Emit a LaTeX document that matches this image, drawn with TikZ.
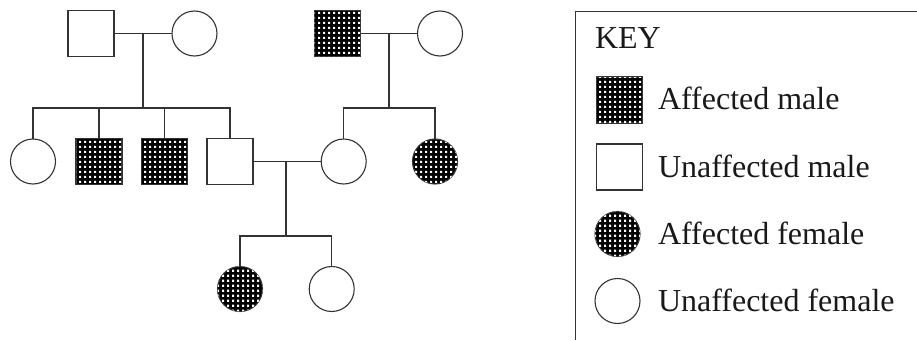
\documentclass[tikz,border=0pt]{standalone}
\usepackage{fontspec}
\setmainfont{Liberation Serif}
\usetikzlibrary{patterns}

% grid of small white dots laid over a black fill
\pgfdeclarepatternformonly{whitegrid}{\pgfpointorigin}{\pgfpoint{4.6pt}{4.6pt}}{\pgfpoint{4.6pt}{4.6pt}}{%
  \pgfpathrectangle{\pgfpoint{1.2pt}{1.2pt}}{\pgfpoint{2.3pt}{2.3pt}}%
  \pgfusepath{fill}}

\begin{document}
\begin{tikzpicture}[x=1pt,y=-1pt,
  every node/.style={inner sep=0pt, outer sep=0pt},
  ln/.style={draw=black!80, line width=1.1pt},
  male/.style={ln, rectangle, minimum size=46pt, fill=white},
  female/.style={ln, circle, minimum size=45pt, fill=white},
  affected/.style={fill=black, postaction={pattern=whitegrid, pattern color=white}},
  keytext/.style={anchor=base west, font=\fontsize{32}{36}\selectfont, text=black!90}]
\useasboundingbox (0,0) rectangle (917,340);

% first generation
\node[male]   (gm1) at (91,33.5) {};
\node[female] (gf1) at (194.5,33.5) {};
\node[male, affected] (gm2) at (337.5,33.5) {};
\node[female] (gf2) at (440,33.5) {};

% second generation
\node[female] (c1) at (33,161.5) {};
\node[male, affected] (c2) at (99,161.5) {};
\node[male, affected] (c3) at (164.5,161.5) {};
\node[male]   (c4) at (230,161.5) {};
\node[female] (d1) at (343.7,161.5) {};
\node[female, affected] (d2) at (435,161.5) {};

% third generation
\node[female, affected] (e1) at (240,289) {};
\node[female] (e2) at (331.7,289) {};

% marriage points and sibling bars
\coordinate (m1) at (143,33.5);
\coordinate (s1) at (143,108);
\coordinate (m2) at (389,33.5);
\coordinate (s2) at (389,108);
\coordinate (m3) at (286,161.5);
\coordinate (s3) at (286,236);

\draw[ln] (gm1.east) -- (gf1.west);
\draw[ln] (m1) -- (s1);
\draw[ln] (c1.north) |- (s1) -| (c4.north);
\draw[ln] (c2.north) -- (c2.north |- s1);
\draw[ln] (c3.north) -- (c3.north |- s1);

\draw[ln] (gm2.east) -- (gf2.west);
\draw[ln] (m2) -- (s2);
\draw[ln] (d1.north) |- (s2) -| (d2.north);

\draw[ln] (c4.east) -- (d1.west);
\draw[ln] (m3) -- (s3);
\draw[ln] (e1.north) |- (s3) -| (e2.north);

% key
\coordinate (kb) at (575.3,340);
\coordinate (kc) at (575.3,11.7);
\coordinate (kr) at (917,11.7);
\draw[ln] (kb) -- (kc) -- (kr);
\node[keytext] (kt) at (595,48) {KEY};
\node[male, affected] (k1) at (619.5,100) {};
\node[keytext] (k1t) at (658,109) {Affected male};
\node[male] (k2) at (619.5,167) {};
\node[keytext] (k2t) at (658,177) {Unaffected male};
\node[female, affected] (k3) at (617.5,234) {};
\node[keytext] (k3t) at (658,244) {Affected female};
\node[female] (k4) at (617.5,301) {};
\node[keytext] (k4t) at (658,311) {Unaffected female};
\end{tikzpicture}
\end{document}
